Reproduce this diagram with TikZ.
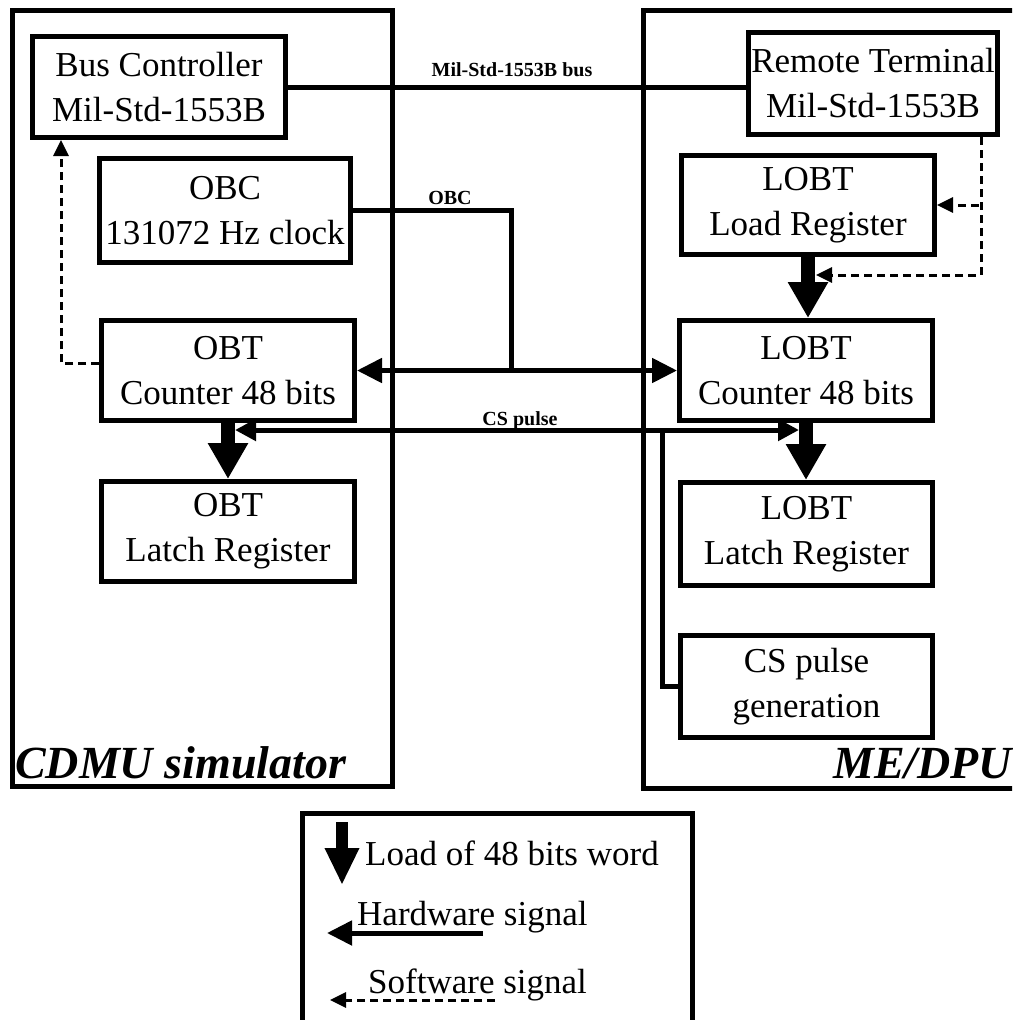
\documentclass[tikz,border=0pt]{standalone}
\usepackage{fontspec}
\setmainfont{Liberation Serif}
\usetikzlibrary{arrows.meta}
\begin{document}
\begin{tikzpicture}[x=1pt,y=-1pt,
  box/.style={draw,line width=5pt,inner sep=0pt,align=center,font=\fontsize{35}{45}\selectfont,minimum width=253pt,minimum height=101pt},
  frame/.style={draw,line width=5pt},
  wire/.style={line width=5pt},
  hw/.style={line width=5pt,-{Triangle[length=25pt,width=24pt]}},
  hwboth/.style={line width=5pt,{Triangle[length=25pt,width=24pt]}-{Triangle[length=25pt,width=24pt]}},
  csboth/.style={line width=5pt,{Triangle[length=21pt,width=21pt]}-{Triangle[length=21pt,width=21pt]}},
  sw/.style={line width=3pt,dash pattern=on 8pt off 5pt,-{Triangle[length=16pt,width=15pt]}},
  load/.style={line width=14pt,-{Triangle[length=36pt,width=38pt]}},
  sig/.style={font=\bfseries\fontsize{20}{24}\selectfont,inner sep=0pt,anchor=base},
  titletext/.style={font=\bfseries\itshape\fontsize{46}{50}\selectfont,inner sep=0pt,anchor=base west},
  legtext/.style={font=\fontsize{35}{45}\selectfont,inner sep=0pt,anchor=base west}
]
\useasboundingbox (0,0) rectangle (1012,1020);
\clip (0,0) rectangle (1012,1020);

% containers
\draw[frame] (12,10) rectangle (392,786);
\draw[frame] (643,10) rectangle (1040,788);

% boxes
\node[box,minimum width=253pt,minimum height=101pt] (BC) at (159,87) {Bus Controller\\Mil-Std-1553B};
\node[box,minimum width=251pt,minimum height=104pt] (OBC) at (225,210.5) {OBC\\131072 Hz clock};
\node[box,minimum height=100pt] (OBTc) at (228,370.5) {OBT\\Counter 48 bits};
\node[box,minimum height=100pt] (OBTl) at (228,531.5) {OBT\\Latch Register};
\node[box,minimum width=249pt,minimum height=102pt] (RT) at (873,83.5) {Remote Terminal\\Mil-Std-1553B};
\node[box,minimum height=99pt] (LLd) at (808,205) {LOBT\\Load Register};
\node[box,minimum height=100pt] (LCt) at (806,370.5) {LOBT\\Counter 48 bits};
\node[box,minimum width=252pt,minimum height=103pt] (LLt) at (806.5,534) {LOBT\\Latch Register};
\node[box,minimum width=252pt,minimum height=102pt] (CSg) at (806.5,686.5) {CS pulse\\generation};

% bus
\draw[wire] (BC.east) -- (RT.west |- BC.east);
\node[sig] (busl) at (512,76) {Mil-Std-1553B bus};

% OBC clock
\coordinate (obcJ) at (511,370.5);
\draw[wire] (OBC.east) -| (obcJ);
\node[sig] (obcl) at (450,204) {OBC};
\draw[hwboth] (OBTc.east) -- (LCt.west);

% load arrows
\draw[load] (OBTc.south) -- (OBTl.north);
\draw[load] (LLd.south) -- (LLd.south |- LCt.north);
\draw[load] (LCt.south) -- (LCt.south |- LLt.north);

% CS pulse
\coordinate (csJ) at (662,430);
\coordinate (csL) at (235,430);
\coordinate (csR) at (799,430);
\draw[wire] (CSg.west) -| (csJ);
\draw[csboth] (csL) -- (csR);
\node[sig] (csl) at (520,425) {CS pulse};

% software signals
\coordinate (d1) at (978.5,205);
\coordinate (d3) at (816,275);
\draw[sw] ([xshift=-19pt]RT.south east) |- (d3);
\draw[sw] (d1) -- (LLd.east);
\coordinate (e1) at (61,363);
\draw[sw] (OBTc.west |- e1) -- (e1) -- (e1 |- BC.south);

% titles
\node[titletext] (t1) at (15,778) {CDMU simulator};
\node[titletext] (t2) at (833,778) {ME/DPU};

% legend
\draw[frame] (302,813) rectangle (692,1040);
\coordinate (la1) at (342,822);
\coordinate (la2) at (342,885);
\draw[line width=12pt,-{Triangle[length=37pt,width=32pt]}] (la1) -- (la2);
\node[legtext] (lt1) at (365,865) {Load of 48 bits word};
\coordinate (lb1) at (483,933);
\coordinate (lb2) at (327,933);
\draw[hw] (lb1) -- (lb2);
\node[legtext] (lt2) at (357,925) {Hardware signal};
\coordinate (lc1) at (495,1000);
\coordinate (lc2) at (330,1000);
\draw[sw] (lc1) -- (lc2);
\node[legtext] (lt3) at (368,993) {Software signal};
\end{tikzpicture}
\end{document}
